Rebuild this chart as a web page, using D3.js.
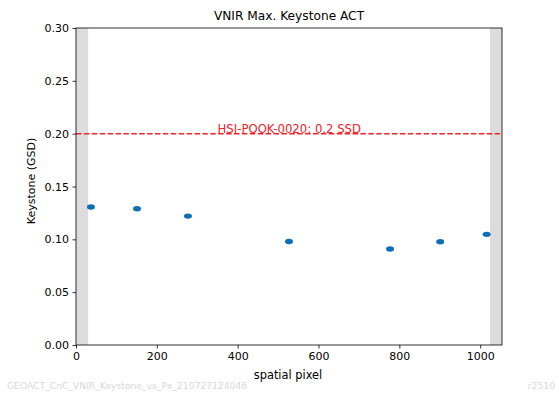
<!DOCTYPE html>
<html><head><meta charset="utf-8">
<script src="https://cdn.jsdelivr.net/npm/d3@7"></script>
<style>body{margin:0;background:#fff}svg{display:block;font-family:"DejaVu Sans",sans-serif}</style>
</head><body><svg id="c" width="559" height="394"></svg>
<script>
const pixels = [37, 151, 277, 527, 777, 901, 1016];
const keystone = [0.1306, 0.129, 0.122, 0.098, 0.0908, 0.0977, 0.1047];
const yTicks = [0.00, 0.05, 0.10, 0.15, 0.20, 0.25, 0.30];
const xTicks = [0, 200, 400, 600, 800, 1000];
const grayBands = [[0, 30], [1024, 1054]];
const requirement = 0.2;
const reqLabel = "HSI-POOK-0020: 0.2 SSD";

const svg = d3.select("#c");
const L = 76, R = 502, T = 28, B = 345;
const x = d3.scaleLinear().domain([0, 1054]).range([L, R]);
const y = d3.scaleLinear().domain([0, 0.3]).range([B, T]);

svg.selectAll("rect.band").data(grayBands).join("rect")
  .attr("x", d => x(d[0])).attr("width", d => x(d[1]) - x(d[0]))
  .attr("y", T).attr("height", B - T).attr("fill", "#dcdcdc");

svg.append("line").attr("x1", L).attr("x2", R)
  .attr("y1", y(requirement)).attr("y2", y(requirement))
  .attr("stroke", "#f0222b").attr("stroke-width", 1.5).attr("stroke-dasharray", "5.5,2.4");

svg.append("text").attr("x", 289.3).attr("y", y(requirement) - 0.5)
  .attr("text-anchor", "middle").attr("font-size", 11.7).attr("fill", "#f0222b").text(reqLabel);

svg.selectAll("ellipse.pt").data(pixels).join("ellipse")
  .attr("cx", d => x(d)).attr("cy", (d, i) => y(keystone[i]))
  .attr("rx", 4).attr("ry", 2.7).attr("fill", "#0d6fb4");

const xa = svg.append("g").attr("transform", `translate(0,${B})`)
  .call(d3.axisBottom(x).tickValues(xTicks).tickFormat(d3.format("d")).tickSize(3.5).tickPadding(3.5));
const ya = svg.append("g").attr("transform", `translate(${L},0)`)
  .call(d3.axisLeft(y).tickValues(yTicks).tickFormat(d3.format(".2f")).tickSize(3.5).tickPadding(3.5));
[xa, ya].forEach(a => {
  a.select(".domain").remove();
  a.selectAll("text").attr("font-size", 11).attr("font-family", "DejaVu Sans").attr("fill", "#000");
  a.selectAll("line").attr("stroke", "#000").attr("stroke-width", 0.8);
});

svg.append("rect").attr("x", L).attr("y", T).attr("width", R - L).attr("height", B - T)
  .attr("fill", "none").attr("stroke", "#000").attr("stroke-width", 0.8);

svg.append("text").attr("x", 289).attr("y", 20).attr("text-anchor", "middle")
  .attr("font-size", 12.2).text("VNIR Max. Keystone ACT");
svg.append("text").attr("x", 288).attr("y", 379).attr("text-anchor", "middle")
  .attr("font-size", 11.4).text("spatial pixel");
svg.append("text").attr("transform", "translate(35,181) rotate(-90)").attr("text-anchor", "middle")
  .attr("font-size", 11).text("Keystone (GSD)");
svg.append("text").attr("x", 7).attr("y", 389).attr("font-size", 9.2).attr("fill", "#d8d8d8")
  .text("GEOACT_CnC_VNIR_Keystone_vs_Px_210727124046");
svg.append("text").attr("x", 555).attr("y", 389).attr("text-anchor", "end").attr("font-size", 9.2).attr("fill", "#d8d8d8")
  .text("r2510");
</script></body></html>
